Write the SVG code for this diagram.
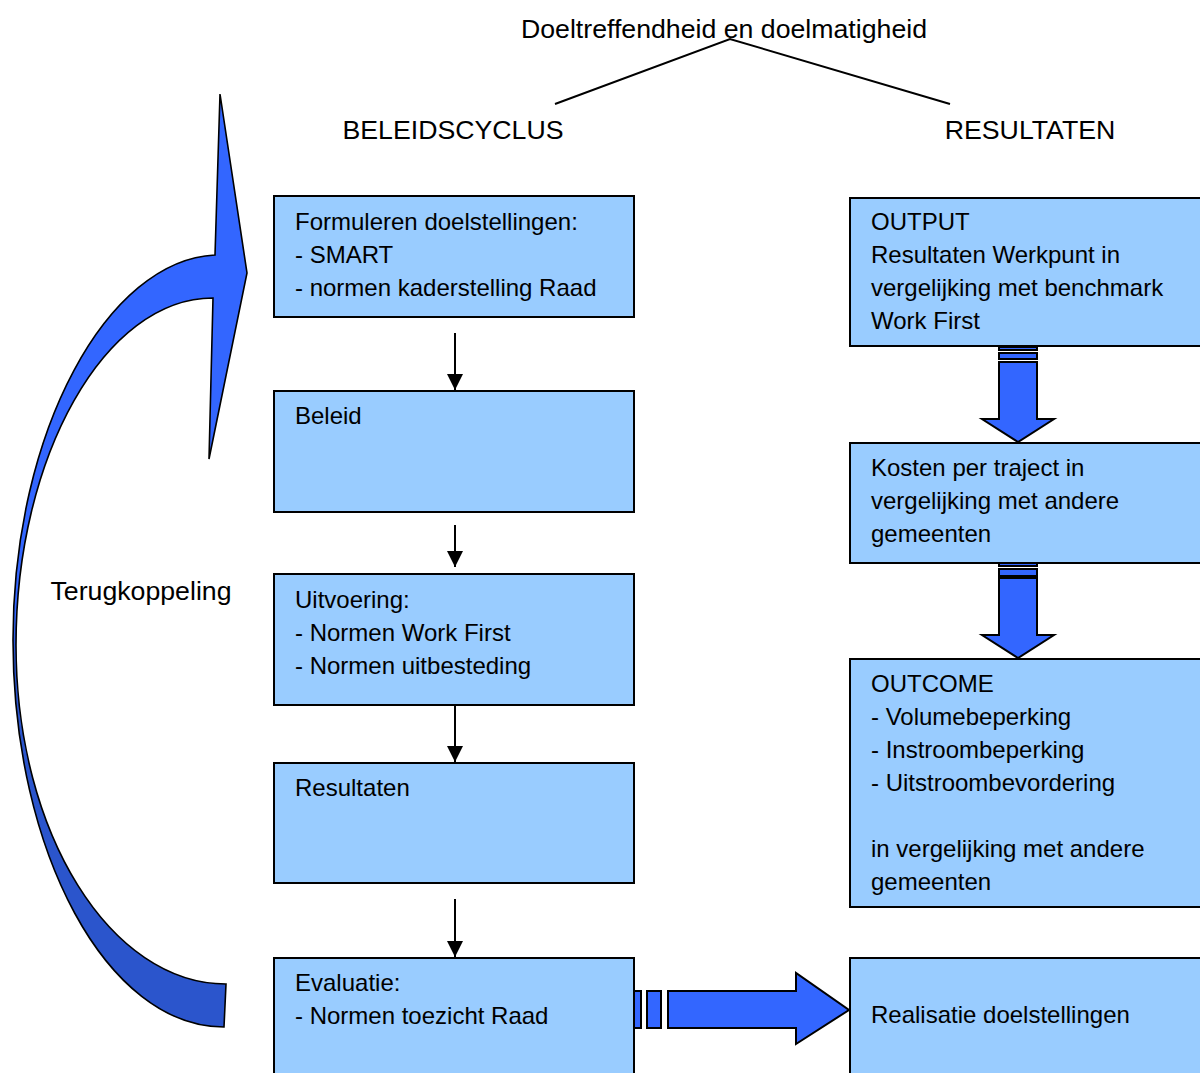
<svg xmlns="http://www.w3.org/2000/svg" width="1200" height="1073" viewBox="0 0 1200 1073">
<defs>
<style>
.box{fill:#99CCFF;stroke:#000;stroke-width:2}
.t{font-family:"Liberation Sans",Arial,sans-serif;font-size:24px;fill:#000}
.lbl{font-family:"Liberation Sans",Arial,sans-serif;font-size:26.7px;fill:#000}
.blk{fill:#3366FF;stroke:#000;stroke-width:2;stroke-linejoin:miter}
.ln{stroke:#000;stroke-width:2;fill:none}
</style>
<marker id="ah" viewBox="0 0 16 16" refX="16" refY="8" markerWidth="16" markerHeight="16" markerUnits="userSpaceOnUse" orient="auto">
<path d="M0,0 L16,8 L0,16 Z" fill="#000"/>
</marker>
<linearGradient id="cg" gradientUnits="userSpaceOnUse" x1="0" y1="94" x2="0" y2="1027">
<stop offset="0" stop-color="#3366FF"/>
<stop offset="0.56" stop-color="#3366FF"/>
<stop offset="0.6" stop-color="#2B55CC"/>
<stop offset="1" stop-color="#2B55CC"/>
</linearGradient>
</defs>
<rect width="1200" height="1073" fill="#fff"/>

<g id="title">
<text class="lbl" x="724" y="38" text-anchor="middle">Doeltreffendheid en doelmatigheid</text>
<text class="lbl" x="453" y="139" text-anchor="middle">BELEIDSCYCLUS</text>
<text class="lbl" x="1030" y="139" text-anchor="middle">RESULTATEN</text>
<text class="lbl" x="141" y="600" text-anchor="middle">Terugkoppeling</text>
</g>

<g id="connectors">
<polyline class="ln" points="555,104 730,39 950,104"/>
<line class="ln" x1="455" y1="333" x2="455" y2="390" marker-end="url(#ah)"/>
<line class="ln" x1="455" y1="525" x2="455" y2="567" marker-end="url(#ah)"/>
<line class="ln" x1="455" y1="705" x2="455" y2="762" marker-end="url(#ah)"/>
<line class="ln" x1="455" y1="899" x2="455" y2="957" marker-end="url(#ah)"/>
<path id="feedback" d="M215,255 C108,260 13,430 13,640 C13,852 107,1027 224,1027 L226,984 C111,984 16,834 16,645 C16,456 105,298 213,298 L209,459 L247,273 L220,94 Z" fill="url(#cg)" stroke="#000" stroke-width="1.6" stroke-linejoin="miter"/>
<g id="arrow-down-1">
<rect class="blk" x="999" y="347" width="38" height="3"/>
<rect class="blk" x="999" y="353" width="38" height="6"/>
<path class="blk" d="M999,362 L1037,362 L1037,419 L1054,419 L1018,442 L982,419 L999,419 Z"/>
</g>
<g id="arrow-down-2">
<rect class="blk" x="999" y="563" width="38" height="3"/>
<rect class="blk" x="999" y="569" width="38" height="7"/>
<path class="blk" d="M999,578 L1037,578 L1037,635 L1054,635 L1018,658 L982,635 L999,635 Z"/>
</g>
<g id="arrow-right">
<rect class="blk" x="634" y="991" width="7" height="37"/>
<rect class="blk" x="647" y="991" width="14" height="37"/>
<path class="blk" d="M668,991 L796,991 L796,973 L849,1010 L796,1044 L796,1028 L668,1028 Z"/>
</g>
</g>

<g id="n-formuleren">
<rect class="box" x="274" y="196" width="360" height="121"/>
<text class="t" x="295" y="230">Formuleren doelstellingen:</text>
<text class="t" x="295" y="263">- SMART</text>
<text class="t" x="295" y="296">- normen kaderstelling Raad</text>
</g>
<g id="n-beleid">
<rect class="box" x="274" y="391" width="360" height="121"/>
<text class="t" x="295" y="424">Beleid</text>
</g>
<g id="n-uitvoering">
<rect class="box" x="274" y="574" width="360" height="131"/>
<text class="t" x="295" y="608">Uitvoering:</text>
<text class="t" x="295" y="641">- Normen Work First</text>
<text class="t" x="295" y="674">- Normen uitbesteding</text>
</g>
<g id="n-resultaten">
<rect class="box" x="274" y="763" width="360" height="120"/>
<text class="t" x="295" y="796">Resultaten</text>
</g>
<g id="n-evaluatie">
<rect class="box" x="274" y="958" width="360" height="130"/>
<text class="t" x="295" y="991">Evaluatie:</text>
<text class="t" x="295" y="1024">- Normen toezicht Raad</text>
</g>
<g id="n-output">
<rect class="box" x="850" y="198" width="360" height="148"/>
<text class="t" x="871" y="230">OUTPUT</text>
<text class="t" x="871" y="263">Resultaten Werkpunt in</text>
<text class="t" x="871" y="296">vergelijking met benchmark</text>
<text class="t" x="871" y="329">Work First</text>
</g>
<g id="n-kosten">
<rect class="box" x="850" y="443" width="360" height="120"/>
<text class="t" x="871" y="476">Kosten per traject in</text>
<text class="t" x="871" y="509">vergelijking met andere</text>
<text class="t" x="871" y="542">gemeenten</text>
</g>
<g id="n-outcome">
<rect class="box" x="850" y="659" width="360" height="248"/>
<text class="t" x="871" y="692">OUTCOME</text>
<text class="t" x="871" y="725">- Volumebeperking</text>
<text class="t" x="871" y="758">- Instroombeperking</text>
<text class="t" x="871" y="791">- Uitstroombevordering</text>
<text class="t" x="871" y="857">in vergelijking met andere</text>
<text class="t" x="871" y="890">gemeenten</text>
</g>
<g id="n-realisatie">
<rect class="box" x="850" y="958" width="360" height="130"/>
<text class="t" x="871" y="1023">Realisatie doelstellingen</text>
</g>
</svg>
